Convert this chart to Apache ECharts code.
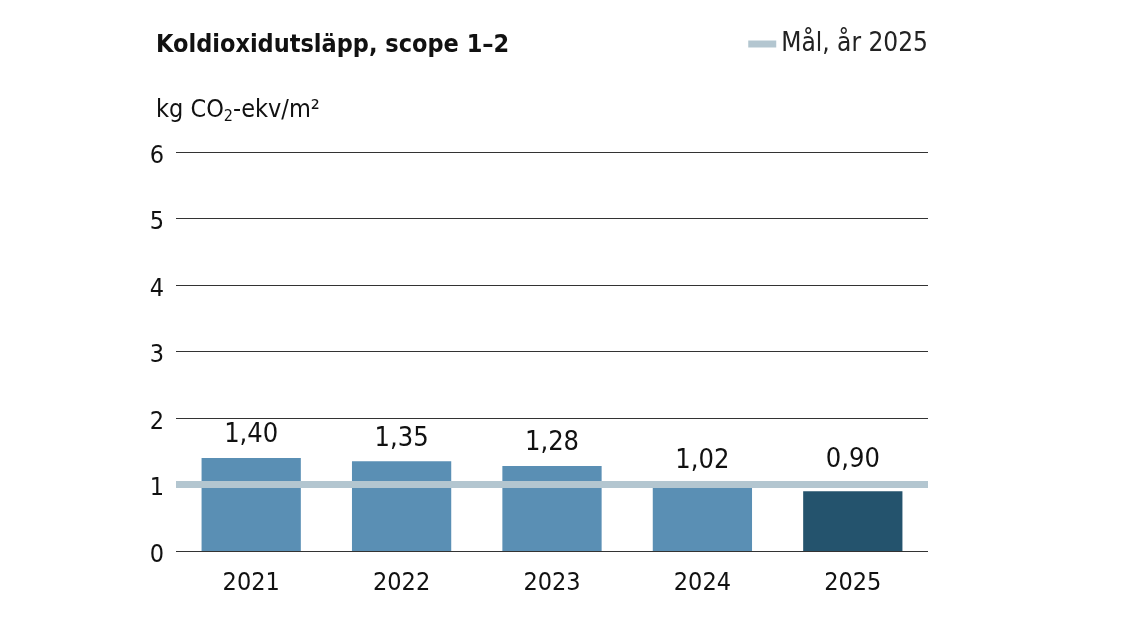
<!DOCTYPE html>
<html><head><meta charset="utf-8">
<script src="https://cdn.jsdelivr.net/npm/echarts@6/dist/echarts.min.js"></script>
<style>html,body{margin:0;padding:0;background:#fff}#c{width:1130px;height:636px}</style>
</head><body><div id="c"></div>
<script>
const categories = ['2021','2022','2023','2024','2025'];
const values = [1.40, 1.35, 1.28, 1.02, 0.90];
const targetValue = 1;
const yTicks = [0, 1, 2, 3, 4, 5, 6];
const FONT = '"Liberation Sans Narrow", "DejaVu Sans Condensed", sans-serif';
const chart = echarts.init(document.getElementById('c'));
chart.setOption({
  animation: false,
  textStyle: { fontFamily: FONT, color: '#111' },
  title: [
    { text: 'Koldioxidutsläpp, scope 1–2', left: 151, top: 28,
      textStyle: { fontFamily: FONT, fontSize: 25, fontWeight: 'bold', color: '#111' } },
    { text: 'kg CO{s|2}-ekv/m²', left: 151, top: 90,
      textStyle: { fontFamily: FONT, fontSize: 25, fontWeight: 'normal', color: '#111',
        rich: { s: { fontFamily: FONT, fontSize: 16, color: '#111', padding: [14, 0, 0, 0] } } } }
  ],
  legend: {
    right: 202, top: 31, padding: 0, itemWidth: 28, itemHeight: 7, itemGap: 12,
    textStyle: { fontFamily: FONT, fontSize: 26, color: '#222' },
    data: [{ name: 'Mål, år 2025', icon: 'rect' }]
  },
  grid: { left: 176, right: 202, top: 152, bottom: 85 },
  xAxis: {
    type: 'category', data: categories,
    axisLine: { show: false }, axisTick: { show: false },
    axisLabel: { fontFamily: FONT, fontSize: 25, color: '#111', margin: 20 }
  },
  yAxis: {
    type: 'value', min: yTicks[0], max: yTicks[yTicks.length - 1], interval: 1,
    axisLine: { show: false }, axisTick: { show: false },
    axisLabel: { margin: 12, formatter: v => '{a|' + v + '}',
      rich: { a: { fontFamily: FONT, fontSize: 25, color: '#111', padding: [8, 0, 0, 0] } } },
    splitLine: { lineStyle: { color: '#333', width: 1 } }
  },
  series: [
    {
      type: 'bar', name: 'Utsläpp', barWidth: '66%',
      data: values.map((v, i) => ({
        value: v,
        itemStyle: { color: i === values.length - 1 ? '#24536d' : '#5a8fb4' },
        label: i === values.length - 1 ? { distance: 18 } : undefined
      })),
      label: { show: true, position: 'top', distance: 9, fontFamily: FONT, fontSize: 27, color: '#111',
        formatter: p => p.value.toFixed(2).replace('.', ',') }
    },
    {
      type: 'line', name: 'Mål, år 2025', data: [],
      itemStyle: { color: '#b3c6d0' }, lineStyle: { color: '#b3c6d0', width: 7 },
      markLine: {
        symbol: 'none', silent: true, label: { show: false },
        lineStyle: { color: '#b3c6d0', width: 7, type: 'solid' },
        data: [{ yAxis: targetValue }]
      }
    }
  ]
});
</script></body></html>
